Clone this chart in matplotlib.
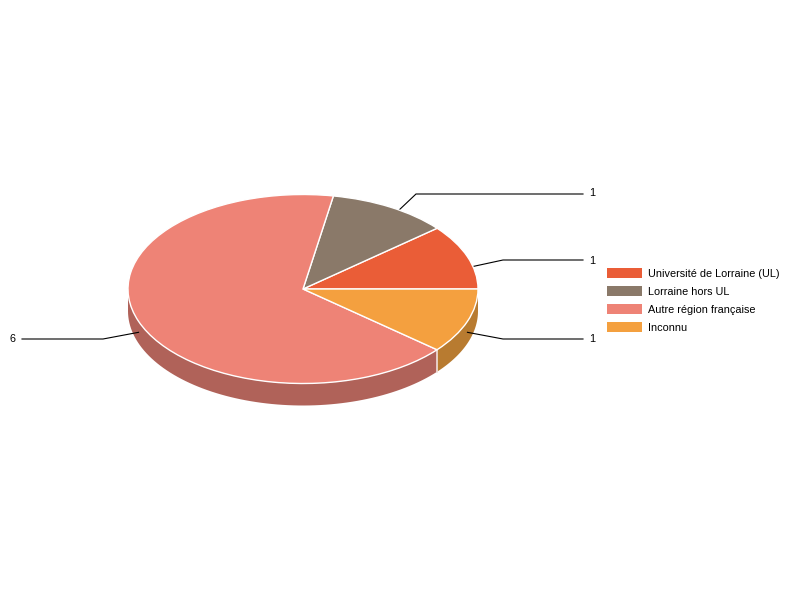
import matplotlib
matplotlib.use('Agg')
import matplotlib.pyplot as plt
import numpy as np

labels = ['Université de Lorraine (UL)', 'Lorraine hors UL', 'Autre région française', 'Inconnu']
values = [1, 1, 6, 1]
colors = ['#EA5D37', '#8A7969', '#EE8376', '#F4A03F']
side_colors = ['#A84328', '#63564B', '#B06259', '#B87B30']

plt.rcParams['font.family'] = ['Liberation Sans', 'DejaVu Sans']

W, H = 800, 600
cx, cy, rx, ry, depth = 303, 289, 175, 94.5, 22


def to_x(px):
    return (px - cx) / rx


def to_y(py):
    return (cy - py) / ry


fig = plt.figure(figsize=(W / 100, H / 100), dpi=100)
# axes spanning the ellipse, so the unit circle of pie() gets squashed
ax = fig.add_axes([(cx - rx) / W, 1 - (cy + ry) / H, 2 * rx / W, 2 * ry / H])

wedges, _ = ax.pie(values, colors=colors, startangle=0, counterclock=True, radius=1,
                   wedgeprops={'edgecolor': 'white', 'linewidth': 1, 'zorder': 3})
ax.set_aspect('auto')
ax.set_xlim(-1, 1)
ax.set_ylim(-1, 1)
ax.axis('off')

# side of the cake
d = depth / ry
edges = np.cumsum([0] + values) / sum(values) * 360
for i in range(len(values)):
    a0, a1 = max(edges[i], 180), edges[i + 1]
    if a1 <= a0:
        continue
    t = np.radians(np.linspace(a0, a1, 80))
    xs = np.concatenate([np.cos(t), np.cos(t[::-1])])
    ys = np.concatenate([np.sin(t), np.sin(t[::-1]) - d])
    ax.fill(xs, ys, color=side_colors[i], lw=0, zorder=1, clip_on=False)
    if a1 < 360:
        ax.plot([np.cos(t[-1])] * 2, [np.sin(t[-1]), np.sin(t[-1]) - d], color='#F0E0DC', lw=1.2,
                zorder=1.5, clip_on=False)

# leader lines, starting at the middle of each slice
elbow_x = [503, 416, 103, 503]
line_y = [260, 194, 339, 339]
end_x = [583, 583, 22, 583]
text_x = [592, 592, 13, 592]
text_y = [260.5, 193.5, 339.5, 339.5]
for i, v in enumerate(values):
    mid = np.radians((edges[i] + edges[i + 1]) / 2)
    x0, y0 = np.cos(mid), np.sin(mid) - d / 2
    ax.plot([x0, to_x(elbow_x[i]), to_x(end_x[i])],
            [y0, to_y(line_y[i]), to_y(line_y[i])],
            color='black', lw=0.8, zorder=2, clip_on=False, solid_joinstyle='miter')
    ax.text(to_x(text_x[i]), to_y(text_y[i]), str(v), ha='center', va='center',
            fontsize=7.85, color='black', clip_on=False)

leg = fig.legend(wedges, labels, loc='upper left', bbox_to_anchor=(607 / W, 1 - 268 / H),
                 frameon=False, fontsize=7.85, borderpad=0, borderaxespad=0,
                 handlelength=3.2, handleheight=1.05, handletextpad=0.55, labelspacing=0.66)
for h in leg.legend_handles:
    h.set_linewidth(0)

fig.savefig('out.png', dpi=100, facecolor='white')
